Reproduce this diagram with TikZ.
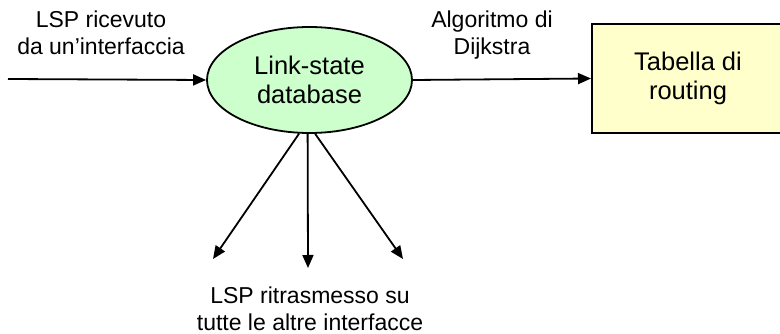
\documentclass[tikz,border=0pt]{standalone}
\usepackage{fontspec}
\setmainfont{Liberation Sans}
\usepackage{tikz}
\usetikzlibrary{arrows.meta,positioning,shapes.geometric}
\definecolor{dbgreen}{HTML}{CCFFCC}
\definecolor{tabyel}{HTML}{FFFFCC}
\tikzset{
  ar/.style={-{Triangle[length=13pt,width=11pt]},line width=1.8pt,black},
  dbell/.style={ellipse,draw=black,line width=1.8pt,fill=dbgreen,minimum width=205pt,minimum height=106pt,inner sep=0pt,align=center,font=\fontsize{25.5}{29}\selectfont},
  box/.style={draw=black,line width=2pt,fill=tabyel,minimum width=192pt,minimum height=109pt,inner sep=0pt,align=center,font=\fontsize{25.5}{29}\selectfont},
  lbl/.style={align=center,inner sep=0pt,font=\fontsize{23}{27}\selectfont}
}
\begin{document}
\begin{tikzpicture}[x=1pt,y=-1pt]
\useasboundingbox (0,0) rectangle (780,334);
\clip (0,0) rectangle (780,334);
% nodes
\node[dbell] (db) at (309.5,80) {Link-state\\database};
\node[box] (routing) at (688,78.5) {Tabella di\\routing};
% labels (base = last line)
\node[lbl,anchor=base] (inlbl) at (101,55) {LSP ricevuto\\da un'interfaccia};
\node[lbl,anchor=base] (dijk) at (492,55) {Algoritmo di\\Dijkstra};
\node[lbl,anchor=base] (outlbl) at (310,330) {LSP ritrasmesso su\\tutte le altre interfacce};
% free ends
\coordinate (src) at (8,79);
\coordinate (outa) at (213,259);
\coordinate (outb) at (308,268);
\coordinate (outc) at (403,259);
% connectors
\draw[ar] (src) -- (db.west);
\draw[ar] (db.east) -- (routing.west);
\draw[ar] (db.259) -- (outa);
\draw[ar] (db.268) -- (outb);
\draw[ar] (db.276) -- (outc);
\end{tikzpicture}
\end{document}
